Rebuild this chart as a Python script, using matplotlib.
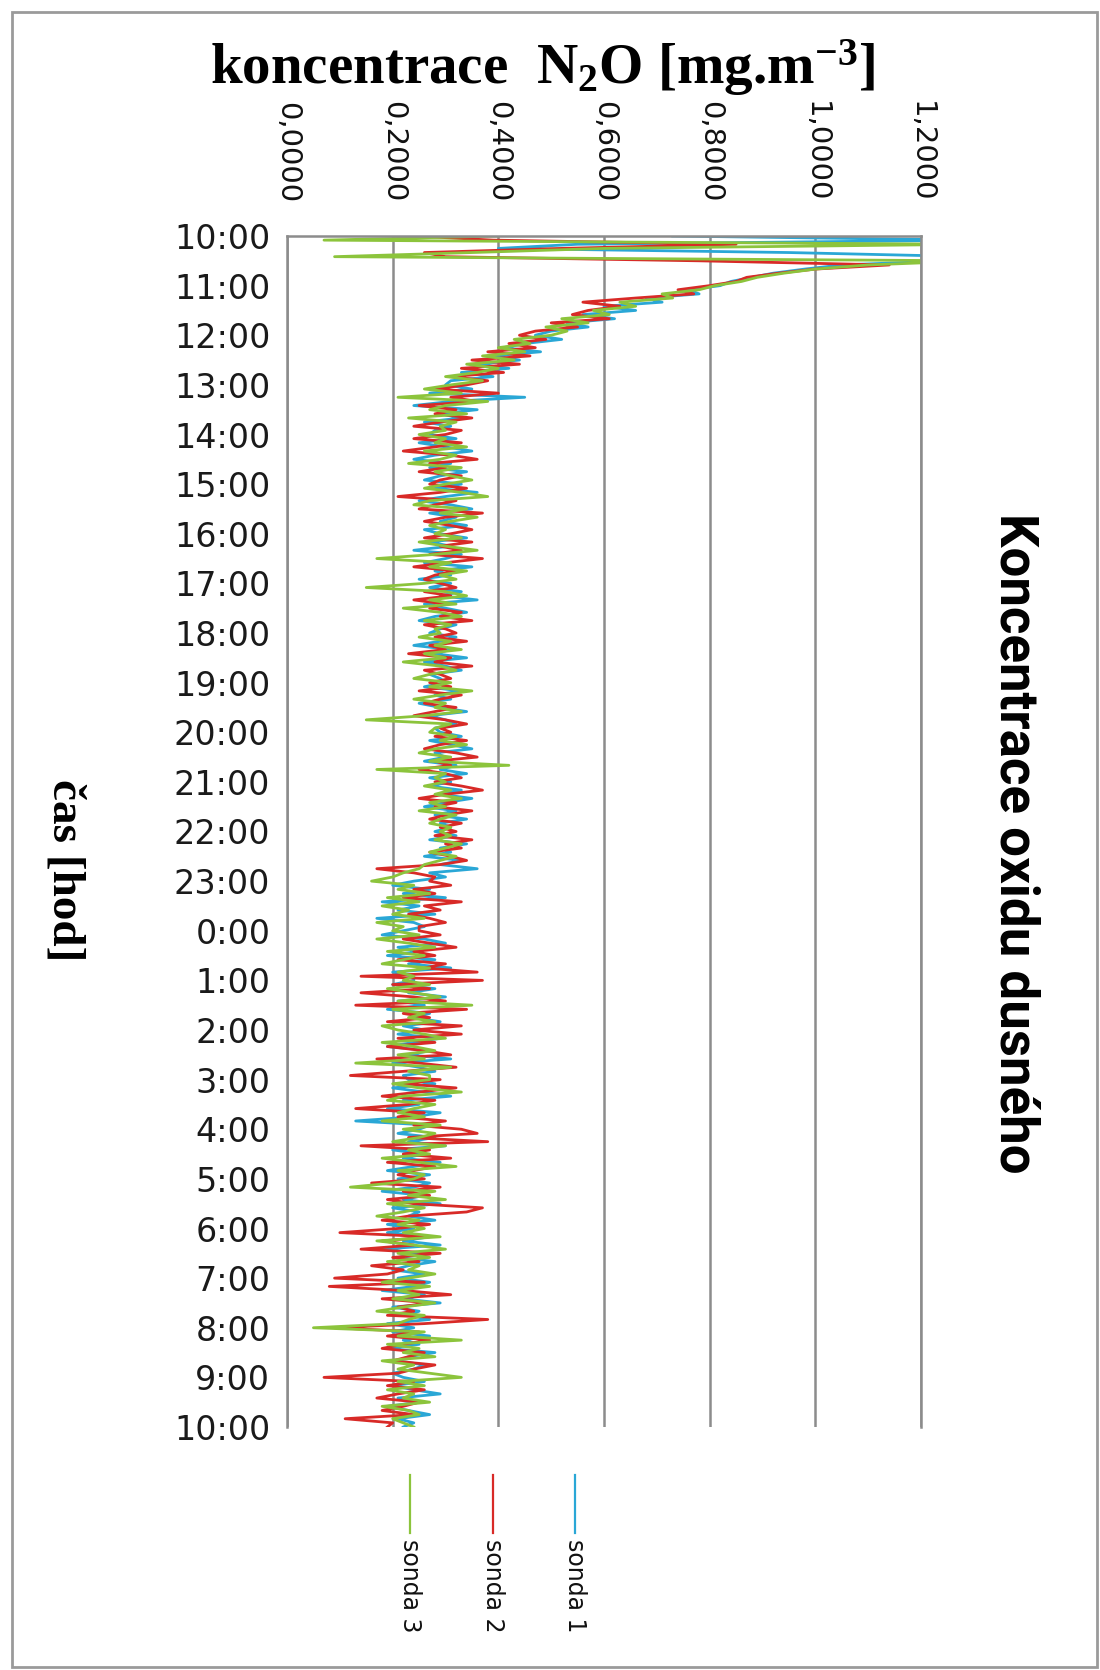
import matplotlib.pyplot as plt
import numpy as np
from matplotlib.lines import Line2D
from matplotlib.patches import Rectangle

plt.rcParams['mathtext.fontset'] = 'custom'
plt.rcParams['mathtext.rm'] = 'Liberation Serif:bold'
plt.rcParams['mathtext.it'] = 'Liberation Serif:bold'
plt.rcParams['mathtext.bf'] = 'Liberation Serif:bold'

# popisky casu (10:00 -> 10:00 dalsi den)
hour_labels = ['10:00', '11:00', '12:00', '13:00', '14:00', '15:00', '16:00',
               '17:00', '18:00', '19:00', '20:00', '21:00', '22:00', '23:00',
               '0:00', '1:00', '2:00', '3:00', '4:00', '5:00', '6:00', '7:00',
               '8:00', '9:00', '10:00']
x_ticks = [0.0, 0.2, 0.4, 0.6, 0.8, 1.0, 1.2]
x_tick_labels = ['0,0000', '0,2000', '0,4000', '0,6000', '0,8000', '1,0000', '1,2000']

names = ['sonda 1', 'sonda 2', 'sonda 3']
colors = ['#2aa7d6', '#d82a27', '#8cc43c']

# hodnoty po 5 minutach, jeden radek = jedna hodina
sonda1 = [
    0.73, 1.30, 0.55, 0.40, 0.95, 1.30, 1.25, 1.05, 0.98, 0.92, 0.88, 0.84,
    0.82, 0.76, 0.78, 0.68, 0.71, 0.60, 0.66, 0.56, 0.62, 0.53, 0.57, 0.50,
    0.47, 0.52, 0.45, 0.41, 0.48, 0.39, 0.44, 0.36, 0.42, 0.33, 0.39, 0.31,
    0.30, 0.35, 0.27, 0.45, 0.31, 0.24, 0.36, 0.29, 0.33, 0.26, 0.31, 0.28,
    0.27, 0.32, 0.25, 0.30, 0.35, 0.28, 0.24, 0.31, 0.27, 0.34, 0.29, 0.26,
    0.33, 0.28, 0.36, 0.30, 0.25, 0.31, 0.35, 0.27, 0.32, 0.29, 0.34, 0.26,
    0.29, 0.34, 0.27, 0.31, 0.24, 0.33, 0.30, 0.26, 0.35, 0.28, 0.31, 0.25,
    0.31, 0.27, 0.33, 0.29, 0.36, 0.26, 0.30, 0.34, 0.28, 0.25, 0.32, 0.29,
    0.27, 0.32, 0.29, 0.24, 0.31, 0.28, 0.34, 0.26, 0.30, 0.33, 0.27, 0.29,
    0.30, 0.26, 0.33, 0.28, 0.31, 0.25, 0.29, 0.34, 0.27, 0.30, 0.32, 0.28,
    0.29, 0.33, 0.27, 0.31, 0.35, 0.28, 0.30, 0.26, 0.32, 0.29, 0.34, 0.27,
    0.31, 0.27, 0.33, 0.29, 0.35, 0.30, 0.26, 0.32, 0.28, 0.34, 0.29, 0.31,
    0.28, 0.32, 0.27, 0.34, 0.29, 0.31, 0.26, 0.33, 0.29, 0.36, 0.27, 0.30,
    0.24, 0.20, 0.27, 0.22, 0.30, 0.18, 0.25, 0.21, 0.28, 0.17, 0.24, 0.26,
    0.22, 0.18, 0.26, 0.30, 0.21, 0.25, 0.19, 0.28, 0.23, 0.31, 0.20, 0.24,
    0.24, 0.20, 0.28, 0.23, 0.30, 0.21, 0.26, 0.19, 0.27, 0.24, 0.29, 0.22,
    0.26, 0.21, 0.29, 0.24, 0.19, 0.27, 0.23, 0.31, 0.20, 0.25, 0.28, 0.22,
    0.23, 0.28, 0.20, 0.26, 0.31, 0.22, 0.25, 0.19, 0.29, 0.24, 0.13, 0.27,
    0.25, 0.21, 0.28, 0.23, 0.30, 0.20, 0.26, 0.22, 0.29, 0.24, 0.19, 0.27,
    0.21, 0.27, 0.24, 0.18, 0.26, 0.22, 0.29, 0.20, 0.25, 0.23, 0.28, 0.19,
    0.24, 0.19, 0.27, 0.22, 0.29, 0.18, 0.25, 0.21, 0.28, 0.23, 0.20, 0.26,
    0.21, 0.27, 0.24, 0.18, 0.26, 0.22, 0.29, 0.20, 0.25, 0.23, 0.27, 0.19,
    0.24, 0.20, 0.27, 0.22, 0.25, 0.19, 0.28, 0.23, 0.21, 0.26, 0.24, 0.20,
    0.22, 0.26, 0.20, 0.24, 0.29, 0.21, 0.25, 0.19, 0.23, 0.27, 0.21, 0.24,
    0.22]

sonda2 = [
    0.24, 0.39, 0.85, 0.52, 0.26, 0.30, 0.78, 1.14, 1.00, 0.93, 0.87, 0.85,
    0.80, 0.74, 0.77, 0.66, 0.56, 0.63, 0.57, 0.54, 0.61, 0.50, 0.55, 0.47,
    0.44, 0.49, 0.42, 0.47, 0.38, 0.46, 0.35, 0.44, 0.33, 0.41, 0.31, 0.38,
    0.34, 0.28, 0.40, 0.31, 0.36, 0.25, 0.32, 0.28, 0.35, 0.29, 0.24, 0.33,
    0.30, 0.24, 0.33, 0.28, 0.22, 0.31, 0.36, 0.27, 0.30, 0.25, 0.33, 0.29,
    0.27, 0.34, 0.29, 0.21, 0.32, 0.28, 0.25, 0.37, 0.30, 0.26, 0.31, 0.35,
    0.31, 0.26, 0.35, 0.29, 0.33, 0.27, 0.37, 0.30, 0.24, 0.32, 0.28, 0.26,
    0.29, 0.32, 0.26, 0.31, 0.24, 0.30, 0.27, 0.33, 0.29, 0.35, 0.26, 0.30,
    0.32, 0.28, 0.34, 0.27, 0.30, 0.23, 0.31, 0.28, 0.35, 0.26, 0.29, 0.31,
    0.27, 0.31, 0.25, 0.33, 0.29, 0.26, 0.32, 0.28, 0.24, 0.30, 0.34, 0.29,
    0.31, 0.28, 0.34, 0.29, 0.26, 0.32, 0.36, 0.28, 0.31, 0.25, 0.30, 0.33,
    0.28, 0.33, 0.37, 0.30, 0.25, 0.32, 0.28, 0.35, 0.30, 0.27, 0.33, 0.29,
    0.32, 0.28, 0.35, 0.30, 0.33, 0.27, 0.31, 0.34, 0.29, 0.17, 0.24, 0.28,
    0.27, 0.31, 0.24, 0.28, 0.22, 0.33, 0.26, 0.29, 0.23, 0.27, 0.30, 0.25,
    0.25, 0.29, 0.22, 0.27, 0.32, 0.24, 0.28, 0.21, 0.30, 0.26, 0.36, 0.14,
    0.37, 0.20, 0.27, 0.14, 0.24, 0.30, 0.13, 0.34, 0.22, 0.27, 0.19, 0.33,
    0.24, 0.33, 0.21, 0.28, 0.19, 0.26, 0.31, 0.17, 0.25, 0.32, 0.22, 0.12,
    0.29, 0.22, 0.32, 0.25, 0.18, 0.28, 0.23, 0.13, 0.26, 0.21, 0.30, 0.24,
    0.33, 0.36, 0.23, 0.38, 0.14, 0.27, 0.22, 0.31, 0.19, 0.28, 0.24, 0.21,
    0.26, 0.16, 0.29, 0.22, 0.27, 0.19, 0.24, 0.37, 0.34, 0.23, 0.18, 0.27,
    0.21, 0.10, 0.27, 0.18, 0.24, 0.14, 0.29, 0.20, 0.25, 0.16, 0.22, 0.19,
    0.09, 0.26, 0.08, 0.22, 0.31, 0.18, 0.27, 0.21, 0.24, 0.19, 0.38, 0.26,
    0.09, 0.25, 0.19, 0.27, 0.22, 0.18, 0.26, 0.23, 0.20, 0.28, 0.24, 0.21,
    0.07, 0.24, 0.19, 0.26, 0.21, 0.17, 0.25, 0.22, 0.18, 0.24, 0.11, 0.20,
    0.19]

sonda3 = [
    0.40, 0.07, 1.30, 0.60, 0.35, 0.09, 1.30, 1.10, 1.00, 0.94, 0.89, 0.86,
    0.81, 0.78, 0.71, 0.73, 0.63, 0.66, 0.58, 0.61, 0.52, 0.57, 0.49, 0.53,
    0.50, 0.43, 0.46, 0.40, 0.45, 0.37, 0.43, 0.34, 0.40, 0.36, 0.30, 0.37,
    0.31, 0.26, 0.33, 0.21, 0.38, 0.30, 0.27, 0.34, 0.23, 0.32, 0.29, 0.30,
    0.25, 0.30, 0.28, 0.34, 0.26, 0.32, 0.29, 0.23, 0.33, 0.28, 0.31, 0.35,
    0.30, 0.26, 0.33, 0.38, 0.27, 0.24, 0.34, 0.29, 0.36, 0.31, 0.27, 0.30,
    0.28, 0.33, 0.25, 0.30, 0.36, 0.28, 0.17, 0.31, 0.27, 0.34, 0.29, 0.32,
    0.26, 0.15, 0.30, 0.34, 0.27, 0.32, 0.22, 0.29, 0.33, 0.26, 0.31, 0.28,
    0.29, 0.25, 0.31, 0.28, 0.33, 0.26, 0.30, 0.22, 0.29, 0.32, 0.27, 0.24,
    0.31, 0.27, 0.35, 0.29, 0.24, 0.30, 0.28, 0.33, 0.26, 0.15, 0.31, 0.28,
    0.27, 0.32, 0.29, 0.34, 0.28, 0.25, 0.31, 0.27, 0.42, 0.17, 0.30, 0.28,
    0.30, 0.26, 0.31, 0.28, 0.33, 0.27, 0.30, 0.25, 0.32, 0.29, 0.27, 0.31,
    0.29, 0.31, 0.28, 0.33, 0.30, 0.27, 0.32, 0.29, 0.26, 0.25, 0.22, 0.20,
    0.16, 0.24, 0.21, 0.27, 0.19, 0.25, 0.18, 0.23, 0.20, 0.26, 0.17, 0.22,
    0.20, 0.25, 0.17, 0.23, 0.28, 0.19, 0.26, 0.22, 0.18, 0.27, 0.21, 0.24,
    0.22, 0.27, 0.19, 0.24, 0.29, 0.21, 0.35, 0.20, 0.26, 0.23, 0.28, 0.18,
    0.21, 0.26, 0.30, 0.18, 0.24, 0.28, 0.21, 0.26, 0.13, 0.31, 0.23, 0.27,
    0.27, 0.20, 0.25, 0.33, 0.22, 0.19, 0.28, 0.24, 0.21, 0.26, 0.18, 0.29,
    0.22, 0.28, 0.25, 0.20, 0.30, 0.23, 0.27, 0.18, 0.25, 0.32, 0.21, 0.26,
    0.24, 0.20, 0.12, 0.28, 0.23, 0.30, 0.19, 0.26, 0.22, 0.17, 0.25, 0.21,
    0.26, 0.22, 0.29, 0.17, 0.24, 0.30, 0.21, 0.27, 0.19, 0.25, 0.23, 0.28,
    0.23, 0.18, 0.27, 0.21, 0.25, 0.20, 0.28, 0.22, 0.17, 0.26, 0.23, 0.21,
    0.05, 0.26, 0.21, 0.33, 0.19, 0.25, 0.22, 0.28, 0.18, 0.24, 0.21, 0.27,
    0.33, 0.21, 0.26, 0.19, 0.24, 0.22, 0.27, 0.18, 0.23, 0.25, 0.20, 0.22,
    0.24]

# cas v hodinach od 10:00 (krok 5 min)
t = np.arange(len(sonda1)) * 5 / 60

W, H = 1100, 1670
fig = plt.figure(figsize=(W / 100, H / 100), dpi=100)
ax = fig.add_axes([287 / W, 1 - 1427 / H, (921 - 287) / W, (1427 - 236) / H])

grid_c = '#8c8c8c'
ax.grid(axis='x', color=grid_c, lw=1.8)
ax.set_axisbelow(True)

for vals, c in zip([sonda1, sonda2, sonda3], colors):
    ax.plot(vals, t, color=c, lw=2.0, solid_joinstyle='round')

ax.set_xlim(0, 1.2)
ax.set_ylim(24, 0)

ax.xaxis.tick_top()
ax.set_xticks(x_ticks, x_tick_labels, rotation=-90)
ax.tick_params(axis='x', length=0, pad=24, labelsize=21, labelcolor='#111111')
ax.set_yticks(np.arange(len(hour_labels)), hour_labels)
ax.tick_params(axis='y', length=0, pad=12, labelsize=24, labelcolor='#1a1a1a')

for s in ['left', 'top', 'right']:
    ax.spines[s].set_color(grid_c)
    ax.spines[s].set_linewidth(1.8)
ax.spines['bottom'].set_visible(False)

# nadpisy
fig.text(543 / W, 1 - 84 / H, r'koncentrace  N$_{2}$O [mg.m$^{-3}$]',
         family='Liberation Serif', fontweight='bold', fontsize=41,
         ha='center', va='baseline')
fig.text(64 / W, 1 - 870 / H, 'čas [hod]', family='Liberation Serif',
         fontweight='bold', fontsize=34, rotation=-90, ha='center', va='center')
fig.text(1015 / W, 1 - 843 / H, 'Koncentrace oxidu dusného',
         family=['Roboto', 'DejaVu Sans'], fontweight='bold',
         fontsize=38, rotation=-90, ha='center', va='center')

# legenda
leg_x = [575, 493, 410]
for name, c, lx in zip(names, colors, leg_x):
    fig.add_artist(Line2D([lx / W, lx / W], [1 - 1475 / H, 1 - 1533 / H],
                          transform=fig.transFigure, color=c, lw=1.6))
    fig.text(lx / W, 1 - 1539 / H, name, rotation=-90, fontsize=17,
             ha='center', va='top', color='#111111')

fig.add_artist(Rectangle((12 / W, 3 / H), 1085 / W, 1655 / H, fill=False,
                         transform=fig.transFigure, edgecolor='#9a9a9a', lw=2))

fig.savefig('out.png', dpi=100)
